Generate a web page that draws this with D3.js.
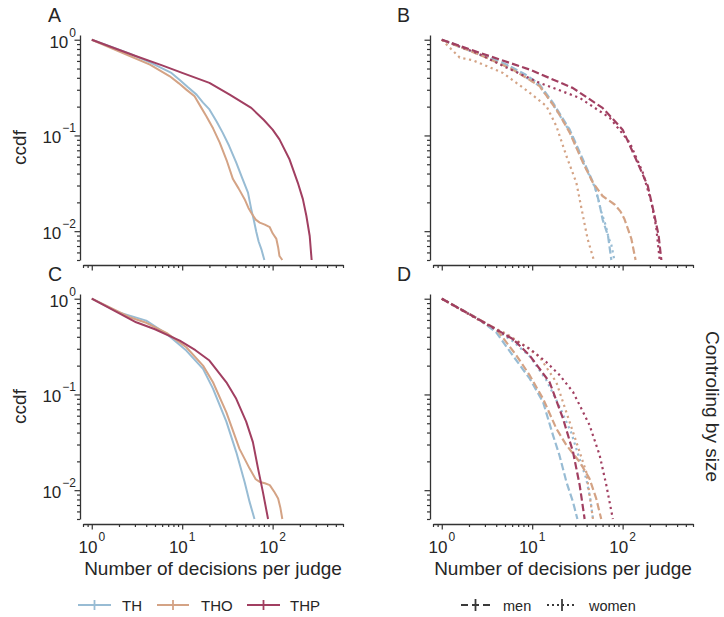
<!DOCTYPE html>
<html>
<head>
<meta charset="utf-8">
<script src="https://cdn.jsdelivr.net/npm/d3@7"></script>
<style>
  html, body { margin: 0; padding: 0; background: #fff; }
  svg { display: block; }
</style>
</head>
<body>
<svg id="chart" width="724" height="617"></svg>
<script>
// ---- data: ccdf of decisions per judge, [decisions, ccdf] ----
const seriesNames = ["TH", "THO", "THP"];
const seriesColors = ["#98bcd4", "#d4a385", "#a13f61"];
const genderNames = ["men", "women"];

// A: all judges
const aTH  = [[1,1],[2.63,0.715],[4.4,0.58],[7.6,0.45],[9.4,0.38],[11.5,0.32],[14.4,0.267],[17,0.22],[20,0.187],[24,0.14],[28,0.107],[33,0.078],[39.6,0.052],[46,0.036],[53.4,0.0253],[58,0.017],[62,0.013],[66,0.0098],[70,0.0078],[75,0.0065],[81,0.005]];
const aTHO = [[1,1],[2.6,0.68],[4.4,0.55],[7.3,0.415],[9.2,0.35],[11.1,0.301],[13.7,0.257],[16,0.2],[18.5,0.159],[22,0.118],[26,0.084],[31,0.055],[36.4,0.035],[42,0.028],[49,0.0216],[54,0.0175],[58,0.0156],[65,0.0132],[72,0.0123],[82,0.0117],[93,0.011],[100,0.0095],[110,0.0083],[115,0.0068],[119,0.0055],[128,0.005]];
const aTHP = [[1,1],[3,0.68],[6,0.54],[10,0.45],[20,0.354],[33.5,0.267],[58,0.194],[80,0.145],[100,0.115],[119,0.091],[154,0.056],[190,0.032],[216,0.0216],[236,0.0145],[257,0.0089],[270,0.005]];

// B: split by gender
const bTHmen    = [[1,1],[3,0.68],[5.2,0.55],[8.5,0.43],[12.1,0.34],[17,0.219],[26,0.115],[36.4,0.056],[49,0.0296],[55,0.02],[60,0.0133],[69,0.0089],[75,0.005]];
const bTHwomen  = [[1,1],[3,0.66],[5.2,0.54],[12,0.33],[17,0.21],[26,0.11],[36,0.054],[50,0.028],[58,0.016],[65,0.0115],[70,0.0085],[75,0.0072],[81,0.005]];
const bTHOmen   = [[1,1],[3,0.66],[6.1,0.487],[9,0.39],[12.1,0.327],[18.5,0.187],[26,0.107],[36.4,0.052],[47,0.032],[60,0.0233],[70,0.021],[81.5,0.019],[95,0.016],[105,0.0133],[125,0.0083],[139,0.005]];
const bTHOwomen = [[1,1],[1.58,0.65],[2.2,0.61],[4.75,0.45],[9.4,0.279],[14.4,0.202],[18.5,0.125],[23.9,0.061],[30.8,0.032],[36.4,0.0145],[41,0.0083],[48,0.005]];
const bTHPmen   = [[1,1],[3,0.7],[9.4,0.487],[28,0.314],[60,0.194],[100,0.115],[141,0.056],[190,0.0296],[225,0.0145],[250,0.009],[268,0.005]];
const bTHPwomen = [[1,1],[2.5,0.72],[5,0.52],[12.1,0.354],[33.5,0.247],[72,0.153],[120,0.084],[167,0.041],[208,0.02],[235,0.011],[257,0.005]];

// C: controlling by size
const cTH  = [[1,1],[2,0.72],[4,0.59],[6.7,0.43],[11.1,0.287],[17,0.185],[21.9,0.115],[30.8,0.052],[39.6,0.025],[49,0.0122],[55.7,0.0075],[63,0.005]];
const cTHO = [[1,1],[2.63,0.64],[4,0.56],[6.7,0.44],[11.1,0.311],[17,0.2],[21.9,0.134],[30.8,0.065],[43,0.027],[55.7,0.0168],[65,0.013],[72,0.0122],[82,0.0118],[93,0.0113],[105,0.0095],[115,0.0082],[122,0.0065],[128,0.005]];
const cTHP = [[1,1],[3.1,0.567],[5,0.48],[9.4,0.365],[14,0.29],[20,0.226],[30.8,0.134],[39.6,0.09],[51,0.052],[60.5,0.0318],[69,0.0168],[78,0.0096],[89,0.005]];

// D: controlling by size, split by gender
const dTHmen    = [[1,1],[2.5,0.62],[4,0.446],[6.1,0.255],[9.4,0.146],[13.2,0.083],[17,0.0374],[20,0.0232],[23.9,0.0122],[28.3,0.0075],[31.6,0.005]];
const dTHwomen  = [[1,1],[2.5,0.62],[4,0.47],[6.1,0.36],[9.4,0.25],[14.4,0.14],[20,0.075],[27,0.04],[33,0.022],[39.6,0.0132],[44,0.008],[47,0.005]];
const dTHOmen   = [[1,1],[2.5,0.62],[4,0.483],[6.7,0.255],[9.4,0.158],[13.2,0.09],[18.5,0.044],[23.9,0.0295],[33.5,0.0197],[43,0.0132],[51,0.0082],[58,0.005]];
const dTHOwomen = [[1,1],[3.1,0.54],[5.2,0.43],[8,0.33],[12.1,0.245],[18.5,0.134],[23.9,0.065],[30.8,0.0318],[39.6,0.0155],[47,0.005]];
const dTHPmen   = [[1,1],[3.4,0.523],[6.1,0.38],[9.4,0.255],[15.6,0.134],[21.9,0.056],[28.3,0.025],[33.5,0.0113],[38,0.005]];
const dTHPwomen = [[1,1],[3.1,0.545],[5.2,0.41],[9.4,0.3],[14.4,0.217],[20,0.16],[28.3,0.106],[43,0.048],[55.7,0.0232],[66,0.0113],[78,0.005]];

// axis ticks
const xMajor = [1, 10, 100];
const xMinor = [0.8, 0.9, 2, 3, 4, 5, 6, 7, 8, 9, 20, 30, 40, 50, 60, 70, 80, 90, 200, 300, 400, 500, 600];
const yMajor = [1, 0.1, 0.01];
const yMinor = [0.005, 0.006, 0.007, 0.008, 0.009, 0.02, 0.03, 0.04, 0.05, 0.06, 0.07, 0.08, 0.09,
                0.2, 0.3, 0.4, 0.5, 0.6, 0.7, 0.8, 0.9];
const xDomain = [0.8, 600];
const yDomain = [0.005, 1.12];

const xLabel = "Number of decisions per judge";
const yLabel = "ccdf";
const rowLabel = "Controling by size";

// ---- panels ----
const panels = [
  { id: "A", col: 0, row: 0, lines: [[aTH, 0, null], [aTHO, 1, null], [aTHP, 2, null]] },
  { id: "B", col: 1, row: 0, lines: [[bTHmen, 0, 0], [bTHwomen, 0, 1], [bTHOmen, 1, 0], [bTHOwomen, 1, 1], [bTHPmen, 2, 0], [bTHPwomen, 2, 1]] },
  { id: "C", col: 0, row: 1, lines: [[cTH, 0, null], [cTHO, 1, null], [cTHP, 2, null]] },
  { id: "D", col: 1, row: 1, lines: [[dTHmen, 0, 0], [dTHwomen, 0, 1], [dTHOmen, 1, 0], [dTHOwomen, 1, 1], [dTHPmen, 2, 0], [dTHPwomen, 2, 1]] }
];

const FONT = "'Liberation Sans', Arial, Helvetica, sans-serif";
const INK = "#262626";
const SPINE = "#333";
const dashFor = [ "7.4,3.2", "2.2,3.6" ];

const colOffset = [0, 350];
const rowTop = [35, 294];
const plotH = 225;
const xLeft = 83, xRight = 343;
const spineGap = 3;   // offset between spines (despined look)

const svg = d3.select("#chart").style("font-family", FONT);

function supLabel(sel, exp, size, supSize, dy) {
  sel.append("tspan").text("10").attr("font-size", size);
  sel.append("tspan").text(exp).attr("font-size", supSize).attr("dy", dy).attr("dx", 1);
}

panels.forEach(p => {
  const ox = colOffset[p.col];
  const top = rowTop[p.row];
  const bottom = top + plotH;
  const x = d3.scaleLog().domain(xDomain).range([xLeft + ox, xRight + ox]);
  const y = d3.scaleLog().domain(yDomain).range([bottom, top]);
  const g = svg.append("g");

  // y axis (left spine)
  const yAxisX = xLeft + ox - spineGap;
  const yg = g.append("g").attr("transform", `translate(${yAxisX},0)`);
  yg.call(d3.axisLeft(y).tickValues(yMinor).tickSize(3).tickSizeOuter(0).tickFormat(() => ""));
  yg.call(g2 => g2.select(".domain").remove());
  const ygM = g.append("g").attr("transform", `translate(${yAxisX},0)`);
  ygM.call(d3.axisLeft(y).tickValues(yMajor).tickSize(5.5).tickSizeOuter(0).tickFormat(() => ""));
  [yg, ygM].forEach(s => {
    s.selectAll("line").attr("stroke", SPINE).attr("stroke-width", 1.2);
    s.selectAll(".domain").attr("stroke", SPINE).attr("stroke-width", 1.3);
  });
  if (p.col === 0) {
    yMajor.forEach(v => {
      const t = g.append("text")
        .attr("x", yAxisX - 4).attr("y", y(v) + 8)
        .attr("text-anchor", "end").attr("fill", INK);
      supLabel(t, String(Math.round(Math.log10(v))).replace("-", "\u2212"), 17, 12, -11);
    });
    g.append("text")
      .attr("transform", `translate(26,${(top + bottom) / 2}) rotate(-90)`)
      .attr("text-anchor", "middle").attr("font-size", 19).attr("fill", INK)
      .text(yLabel);
  }

  // x axis (bottom spine)
  const xAxisY = bottom + 5;
  const xg = g.append("g").attr("transform", `translate(0,${xAxisY})`);
  xg.call(d3.axisBottom(x).tickValues(xMinor).tickSize(3).tickSizeOuter(0).tickFormat(() => ""));
  xg.call(g2 => g2.select(".domain").remove());
  const xgM = g.append("g").attr("transform", `translate(0,${xAxisY})`);
  xgM.call(d3.axisBottom(x).tickValues(xMajor).tickSize(5.5).tickSizeOuter(0).tickFormat(() => ""));
  [xg, xgM].forEach(s => {
    s.selectAll("line").attr("stroke", SPINE).attr("stroke-width", 1.2);
    s.selectAll(".domain").attr("stroke", SPINE).attr("stroke-width", 1.3);
  });
  if (p.row === 1) {
    xMajor.forEach(v => {
      const t = g.append("text")
        .attr("x", x(v)).attr("y", xAxisY + 29)
        .attr("text-anchor", "middle").attr("fill", INK);
      supLabel(t, String(Math.round(Math.log10(v))), 17, 12, -12);
    });
    g.append("text")
      .attr("x", (xLeft + xRight) / 2 + ox).attr("y", xAxisY + 51)
      .attr("text-anchor", "middle").attr("font-size", 19).attr("fill", INK)
      .text(xLabel);
  }

  // panel letter
  g.append("text")
    .attr("x", 48 + (p.col ? 349 : 0)).attr("y", top - 13)
    .attr("font-size", 19.5).attr("fill", INK)
    .text(p.id);

  // curves
  const clipId = "clip" + p.id;
  g.append("clipPath").attr("id", clipId)
    .append("rect").attr("x", xLeft + ox - 2).attr("y", top - 2)
    .attr("width", xRight - xLeft + 4).attr("height", plotH + 3);
  const line = d3.line().x(d => x(d[0])).y(d => y(d[1]));
  const cg = g.append("g").attr("clip-path", `url(#${clipId})`);
  p.lines.forEach(([data, si, gi]) => {
    cg.append("path")
      .attr("d", line(data))
      .attr("fill", "none")
      .attr("stroke", seriesColors[si])
      .attr("stroke-width", gi === null ? 2 : 2.2)
      .attr("stroke-linejoin", "round")
      .attr("stroke-dasharray", gi === null ? null : dashFor[gi]);
  });
});

// right-hand row label
svg.append("text")
  .attr("transform", `translate(706,${rowTop[1] + plotH / 2}) rotate(90)`)
  .attr("text-anchor", "middle").attr("font-size", 19).attr("fill", INK)
  .text(rowLabel);

// ---- legends ----
const legY = 605;
const legLeft = [[78, 111, 122], [157, 189, 201], [247, 280, 290]];
seriesNames.forEach((name, i) => {
  const [x1, x2, tx] = legLeft[i];
  const lg = svg.append("g");
  lg.append("line").attr("x1", x1).attr("x2", x2).attr("y1", legY).attr("y2", legY)
    .attr("stroke", seriesColors[i]).attr("stroke-width", 2);
  lg.append("line").attr("x1", (x1 + x2) / 2).attr("x2", (x1 + x2) / 2)
    .attr("y1", legY - 5).attr("y2", legY + 5)
    .attr("stroke", seriesColors[i]).attr("stroke-width", 1.8);
  lg.append("text").attr("x", tx).attr("y", legY + 6)
    .attr("font-size", 15).attr("fill", INK).text(name);
});

const legRight = [[461, 490, 503], [547, 577, 589]];
genderNames.forEach((name, i) => {
  const [x1, x2, tx] = legRight[i];
  const lg = svg.append("g");
  lg.append("line").attr("x1", x1).attr("x2", x2).attr("y1", legY).attr("y2", legY)
    .attr("stroke", "#3a3a3a").attr("stroke-width", 2)
    .attr("stroke-dasharray", i === 0 ? "7,4" : "2,3");
  lg.append("line").attr("x1", (x1 + x2) / 2).attr("x2", (x1 + x2) / 2)
    .attr("y1", legY - 6).attr("y2", legY + 6)
    .attr("stroke", "#3a3a3a").attr("stroke-width", 1.8);
  lg.append("text").attr("x", tx).attr("y", legY + 6)
    .attr("font-size", 14.5).attr("fill", INK).text(name);
});
</script>
</body>
</html>
